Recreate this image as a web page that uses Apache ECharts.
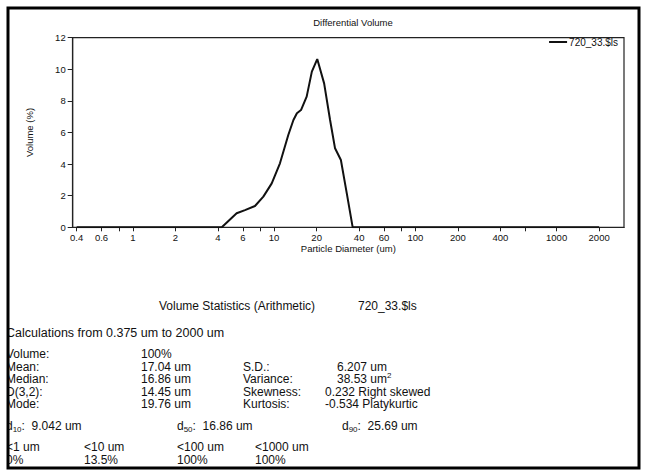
<!DOCTYPE html>
<html>
<head>
<meta charset="utf-8">
<script src="https://cdn.jsdelivr.net/npm/echarts@6/dist/echarts.min.js"></script>
<style>
  html, body { margin: 0; padding: 0; background: #fff; }
  #chart { width: 645px; height: 476px; }
</style>
</head>
<body>
<div id="chart"></div>
<script>
// Differential volume distribution (laser diffraction), sample 720_33.$ls
const sampleName = '720_33.$ls';
const diameters = [0.4, 4.26, 5.43, 6.22, 7.32, 8.39, 9.62, 11.0, 12.6, 13.7, 14.5, 15.5, 17.0, 18.5, 20.2, 22.6, 24.9, 27.0, 29.7, 32.7, 36.0, 2000];
const volumes   = [0,   0,    0.89, 1.09, 1.35, 1.94, 2.78, 4.05, 5.84, 6.79, 7.22, 7.42, 8.27, 9.85, 10.65, 9.11, 6.79, 5.0, 4.26, 2.15, 0,    0];

// Axis ticks (um); labelled ones and extra minor ones
const xLabelTicks = [0.4, 0.6, 1, 2, 4, 6, 10, 20, 40, 60, 100, 200, 400, 1000, 2000];
const xMinorTicks = [0.8, 8, 80, 600];
const xRange = [0.375, 3000];
const yTicks = [0, 2, 4, 6, 8, 10, 12];

// Statistics table
const statsTitle = ['Volume Statistics (Arithmetic)', sampleName];
const calcRange = 'Calculations from 0.375 um to 2000 um';
const statLabels = ['Volume:', 'Mean:', 'Median:', 'D(3,2):', 'Mode:'];
const statValues = ['100%', '17.04 um', '16.86 um', '14.45 um', '19.76 um'];
const spreadLabels = ['', 'S.D.:', 'Variance:', 'Skewness:', 'Kurtosis:'];
const spreadValues = ['', '6.207 um', '38.53 um', '0.232 Right skewed', '-0.534 Platykurtic'];
const spreadPowers = ['', '', '2', '', ''];
const percentileNames = ['10', '50', '90'];
const percentileValues = ['9.042 um', '16.86 um', '25.69 um'];
const cutoffLabels = ['<1 um', '<10 um', '<100 um', '<1000 um'];
const cutoffValues = ['0%', '13.5%', '100%', '100%'];

const lg = v => Math.log10(v);
const fmt = v => String(Number(Math.pow(10, v).toPrecision(3)));

const FONT = '"Liberation Sans", Arial, sans-serif';
const INK = '#111';
const FS = 12;

const chart = echarts.init(document.getElementById('chart'), null, { renderer: 'svg' });

const lineData = diameters.map((d, i) => [lg(d), volumes[i]]);

// Text block under the plot
const graphics = [];
const rich = {
  n: { fontSize: FS, fontFamily: FONT, lineHeight: 15, fill: INK },
  sub: { fontSize: 8, fontFamily: FONT, verticalAlign: 'bottom', lineHeight: 8, fill: INK },
  sup: { fontSize: 8, fontFamily: FONT, verticalAlign: 'top', lineHeight: 8, fill: INK }
};
const txt = (x, y, text, size) => graphics.push({
  type: 'text', x: x, y: y,
  style: {
    text: text, fill: INK, fontSize: size || FS, fontFamily: FONT,
    verticalAlign: 'middle', rich: rich
  }
});

const LEFT = 6;
txt(159, 306, statsTitle[0]);
txt(358, 306, statsTitle[1]);
txt(LEFT, 333, calcRange, 12.5);
const rowY = [354, 366.5, 379, 391.5, 404];
statLabels.forEach((s, i) => {
  txt(LEFT, rowY[i], s);
  txt(141, rowY[i], statValues[i]);
  if (spreadLabels[i]) {
    txt(243, rowY[i], spreadLabels[i]);
    const v = spreadPowers[i]
      ? '{n|' + spreadValues[i] + '}{sup|' + spreadPowers[i] + '}'
      : spreadValues[i];
    txt(i >= 3 ? 325 : 337, rowY[i], v);
  }
});
const pctX = [LEFT, 177, 342];
percentileNames.forEach((p, i) => {
  txt(pctX[i], 426, '{n|d}{sub|' + p + '}{n|:  ' + percentileValues[i] + '}');
});
const cutX = [LEFT, 84, 177, 255];
cutoffLabels.forEach((s, i) => {
  txt(cutX[i], 447, s);
  txt(cutX[i], 460, cutoffValues[i]);
});

// Page margin mask and frame
graphics.push({
  type: 'rect', z: 99, silent: true,
  shape: { x: 0, y: 0, width: 8, height: 476 },
  style: { fill: '#fff' }
});
graphics.push({
  type: 'rect', z: 100, silent: true,
  shape: { x: 8, y: 8, width: 631, height: 460 },
  style: { fill: 'none', stroke: '#000', lineWidth: 3 }
});

chart.setOption({
  animation: false,
  backgroundColor: '#fff',
  title: {
    text: 'Differential Volume',
    left: 348, top: 12, textAlign: 'center',
    textStyle: { fontFamily: FONT, fontSize: 9.5, fontWeight: 'normal', color: INK }
  },
  legend: {
    data: [sampleName],
    right: 22, top: 32,
    itemWidth: 18, itemHeight: 2, itemGap: 4,
    icon: 'rect',
    textStyle: { fontFamily: FONT, fontSize: 10, color: INK, padding: [0, 0, 0, -3] }
  },
  grid: {
    left: 72.7, right: 21, top: 37.7, bottom: 248.7,
    containLabel: false, outerBoundsMode: 'none',
    show: true, borderColor: '#222', borderWidth: 1.2, backgroundColor: 'transparent'
  },
  xAxis: {
    type: 'value',
    min: lg(xRange[0]), max: lg(xRange[1]),
    name: 'Particle Diameter (um)',
    nameLocation: 'middle', nameGap: 16,
    nameTextStyle: { fontFamily: FONT, fontSize: 9.5, color: INK },
    axisLine: { show: true, onZero: false, lineStyle: { color: '#222', width: 1.2 } },
    axisTick: {
      show: true, length: 4, inside: false,
      customValues: xLabelTicks.concat(xMinorTicks).map(lg),
      lineStyle: { color: '#222', width: 1 }
    },
    axisLabel: {
      customValues: xLabelTicks.map(lg),
      formatter: v => fmt(v),
      fontFamily: FONT, fontSize: 9.5, color: INK, margin: 5,
      showMinLabel: true, showMaxLabel: true, hideOverlap: false
    },
    splitLine: { show: false }
  },
  yAxis: {
    type: 'value',
    min: yTicks[0], max: yTicks[yTicks.length - 1], interval: 2,
    name: 'Volume (%)',
    nameLocation: 'middle', nameGap: 38,
    nameTextStyle: { fontFamily: FONT, fontSize: 9.5, color: INK },
    axisLine: { show: true, onZero: false, lineStyle: { color: '#222', width: 1.2 } },
    axisTick: { show: true, length: 5, lineStyle: { color: '#222', width: 1 } },
    axisLabel: { fontFamily: FONT, fontSize: 9.5, color: INK, margin: 7 },
    splitLine: { show: false }
  },
  series: [{
    name: sampleName,
    type: 'line',
    data: lineData,
    symbol: 'none',
    color: '#111',
    lineStyle: { color: '#111', width: 2 },
    z: 3
  }],
  graphic: graphics
});
</script>
</body>
</html>
